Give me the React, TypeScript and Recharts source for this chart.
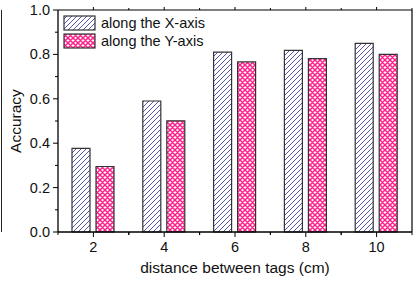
import React from 'react';
import { BarChart, Bar, XAxis, YAxis } from 'recharts';

const distances = ['2', '4', '6', '8', '10'];
const alongX = [0.377, 0.59, 0.81, 0.818, 0.85];
const alongY = [0.295, 0.501, 0.766, 0.781, 0.80];
const yTicks = [0, 0.1, 0.2, 0.3, 0.4, 0.5, 0.6, 0.7, 0.8, 0.9, 1.0];

const data = distances.map((d, i) => ({ d, x: alongX[i], y: alongY[i] }));

const W = 415;
const H = 281;
const LEFT = 58;
const RIGHT_W = 3;
const BAND = (W - LEFT - RIGHT_W) / distances.length;
const FONT = '"Liberation Sans", Arial, sans-serif';

const BottomTick = (props: any) => {
  const { x, y, payload } = props;
  return (
    <g>
      <line x1={x} y1={y} x2={x} y2={y + 5} stroke="#000" />
      <line x1={x - BAND / 2} y1={y} x2={x - BAND / 2} y2={y + 3} stroke="#000" />
      <line x1={x + BAND / 2} y1={y} x2={x + BAND / 2} y2={y + 3} stroke="#000" />
      <text x={x} y={y + 20} textAnchor="middle" fontSize={14.5} fill="#111" fontFamily={FONT}>
        {payload.value}
      </text>
    </g>
  );
};

const TopTick = (props: any) => {
  const { x, y } = props;
  return (
    <g>
      <line x1={x} y1={y} x2={x} y2={y - 3} stroke="#000" />
      <line x1={x + BAND / 2} y1={y} x2={x + BAND / 2} y2={y - 2} stroke="#000" />
    </g>
  );
};

const LeftTick = (props: any) => {
  const { x, y, payload } = props;
  const v = payload.value;
  const major = Math.round(v * 10) % 2 === 0;
  return (
    <g>
      <line x1={x} y1={y} x2={x - (major ? 5 : 3)} y2={y} stroke="#000" />
      {major && (
        <text x={x - 8} y={y + 5} textAnchor="end" fontSize={14.5} fill="#111" fontFamily={FONT}>
          {v.toFixed(1)}
        </text>
      )}
    </g>
  );
};

const RightTick = (props: any) => {
  const { x, y, payload } = props;
  const major = Math.round(payload.value * 10) % 2 === 0;
  return <line x1={x} y1={y} x2={x + (major ? 3 : 2)} y2={y} stroke="#000" />;
};

const legendItems = [
  { label: 'along the X-axis', fill: 'url(#hatchX)' },
  { label: 'along the Y-axis', fill: 'url(#crossY)' },
];

const LegendBox = () => (
  <div style={{ position: 'absolute', left: 63, top: 14, fontFamily: FONT, fontSize: 14.5, color: '#111', lineHeight: '18px' }}>
    {legendItems.map((it) => (
      <div key={it.label} style={{ display: 'flex', alignItems: 'center', height: 18 }}>
        <svg width={34} height={17} style={{ marginRight: 4 }}>
          <rect x={1} y={1} width={31} height={14} fill={it.fill} stroke="#333" strokeWidth={1.2} />
        </svg>
        <span>{it.label}</span>
      </div>
    ))}
  </div>
);

export default function App() {
  return (
    <div style={{ position: 'absolute', left: 0, top: 0, width: W, height: H, background: '#fff' }}>
      <div style={{ position: 'absolute', left: 1, top: 10, width: 0, height: 222, borderLeft: '1px solid #222' }} />
      <BarChart
        width={W}
        height={H}
        data={data}
        margin={{ top: 0, right: 0, bottom: 0, left: 0 }}
        barSize={18}
        barGap={6}
        barCategoryGap={0}
      >
        <defs>
          <pattern id="hatchX" patternUnits="userSpaceOnUse" width={5} height={5}>
            <rect width={5} height={5} fill="#fff" />
            <path d="M-1,1 l2,-2 M0,5 l5,-5 M4,6 l2,-2" stroke="#4343a3" strokeWidth={0.9} />
          </pattern>
          <pattern id="crossY" patternUnits="userSpaceOnUse" width={5} height={5}>
            <rect width={5} height={5} fill="#fff" />
            <path d="M-1,1 l2,-2 M0,5 l5,-5 M4,6 l2,-2 M-1,4 l2,2 M0,0 l5,5 M4,-1 l2,2" stroke="#ff1f8a" strokeWidth={1.5} />
          </pattern>
        </defs>
        <XAxis
          dataKey="d"
          height={49}
          tickSize={0}
          tickMargin={0}
          tickLine={false}
          axisLine={{ stroke: '#000', strokeWidth: 1.3 }}
          tick={<BottomTick />}
          interval={0}
          label={({ viewBox }: any) => (
            <text
              x={viewBox.x + viewBox.width / 2}
              y={273}
              textAnchor="middle"
              fontSize={15.5}
              fill="#111"
              fontFamily={FONT}
            >
              distance between tags (cm)
            </text>
          )}
        />
        <XAxis
          xAxisId="top"
          dataKey="d"
          orientation="top"
          height={10}
          tickSize={0}
          tickMargin={0}
          tickLine={false}
          axisLine={{ stroke: '#000', strokeWidth: 1.2 }}
          tick={<TopTick />}
          interval={0}
        />
        <YAxis
          domain={[0, 1]}
          ticks={yTicks}
          width={LEFT}
          tickSize={0}
          tickMargin={0}
          tickLine={false}
          axisLine={{ stroke: '#000', strokeWidth: 1.3 }}
          tick={<LeftTick />}
          interval={0}
          label={({ viewBox }: any) => {
            const cy = viewBox.y + viewBox.height / 2;
            return (
              <text
                x={21}
                y={cy}
                transform={`rotate(-90, 21, ${cy})`}
                textAnchor="middle"
                fontSize={15.5}
                fill="#111"
                fontFamily={FONT}
              >
                Accuracy
              </text>
            );
          }}
        />
        <YAxis
          yAxisId="right"
          orientation="right"
          domain={[0, 1]}
          ticks={yTicks}
          width={RIGHT_W}
          tickSize={0}
          tickMargin={0}
          tickLine={false}
          axisLine={{ stroke: '#000', strokeWidth: 1.2 }}
          tick={<RightTick />}
          interval={0}
        />
        <Bar dataKey="x" fill="url(#hatchX)" stroke="#333" strokeWidth={1.2} isAnimationActive={false} />
        <Bar dataKey="y" fill="url(#crossY)" stroke="#333" strokeWidth={1.2} isAnimationActive={false} />
      </BarChart>
      <LegendBox />
    </div>
  );
}
